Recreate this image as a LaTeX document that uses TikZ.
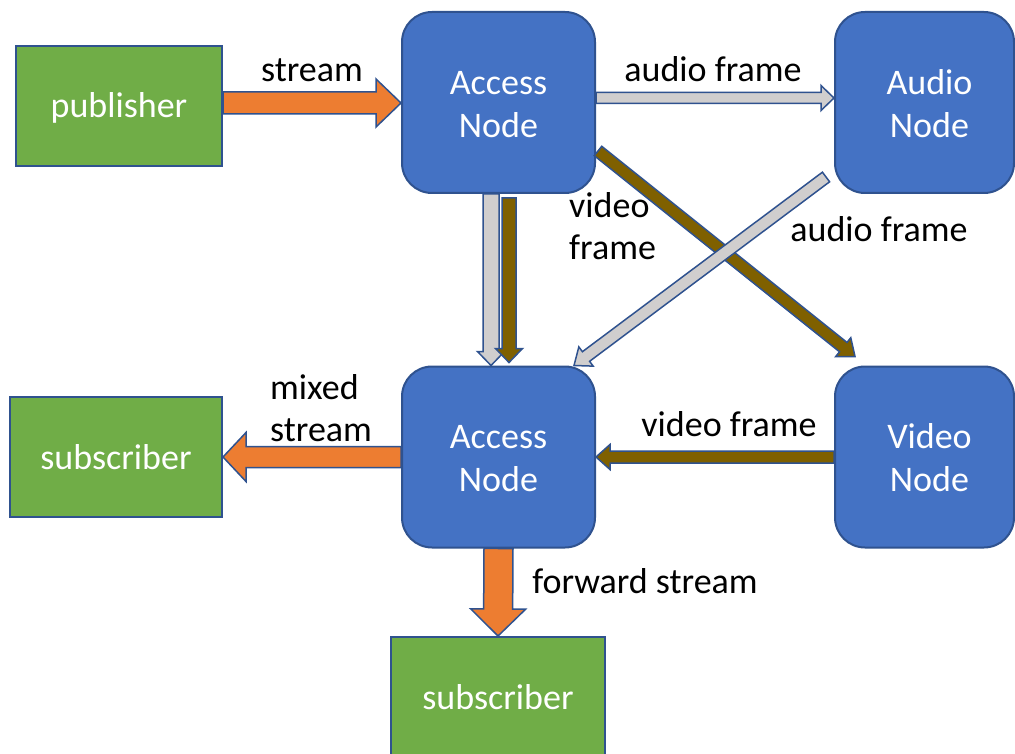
\documentclass[tikz,border=0pt]{standalone}
\usepackage{fontspec}
\setmainfont{Carlito}
\usetikzlibrary{calc}
\definecolor{gfill}{HTML}{70AD47}
\definecolor{bfill}{HTML}{4472C4}
\definecolor{bline}{HTML}{2F528F}
\definecolor{ofill}{HTML}{ED7D31}
\definecolor{grfill}{HTML}{D0CECE}
\definecolor{brfill}{HTML}{7F6000}
\newcommand{\blockarr}[6]{%
  \coordinate (ba-h) at ($(#3)!#6!(#2)$);
  \draw[#1] ($(#2)!#4!90:(#3)$) -- ($(ba-h)!#4!90:(#3)$) -- ($(ba-h)!#5!90:(#3)$)
    -- (#3) -- ($(ba-h)!#5!-90:(#3)$) -- ($(ba-h)!#4!-90:(#3)$) -- ($(#2)!#4!-90:(#3)$) -- cycle;
}
\newcommand{\tstrut}{\rule{0pt}{27pt}}
\begin{document}
\begin{tikzpicture}[x=1pt,y=-1pt,
  every node/.style={font=\fontsize{36}{43}\selectfont},
  greenbox/.style={draw=bline,line width=2pt,fill=gfill,text=white,inner sep=0pt},
  bluebox/.style={draw=bline,line width=2pt,fill=bfill,text=white,rounded corners=30pt,
    minimum height=181pt,inner sep=0pt,align=center},
  lbl/.style={inner sep=0pt,text=black},
  orangearr/.style={draw=bline,line width=1.5pt,fill=ofill,line join=miter},
  greyarr/.style={draw=bline,line width=1.5pt,fill=grfill,line join=miter},
  brownarr/.style={draw=bline,line width=1.5pt,fill=brfill,line join=miter}]
\useasboundingbox[fill=white] (0,0) rectangle (1015,754);

% boxes
\node[greenbox,minimum width=206pt,minimum height=120pt] (pub) at (119,106) {\rule{0pt}{29pt}publisher};
\node[bluebox,minimum width=193pt] (an1) at (498.5,102.5) {\tstrut Access\\Node};
\node[bluebox,minimum width=179pt] (aud) at (924.5,102.5) {\hspace*{10pt}\tstrut Audio\\\hspace*{10pt}Node};
\node[bluebox,minimum width=193pt] (an2) at (498.5,457) {\tstrut Access\\Node};
\node[bluebox,minimum width=179pt] (vid) at (924.5,457) {\hspace*{10pt}\tstrut Video\\\hspace*{10pt}Node};
\node[greenbox,minimum width=212pt,minimum height=120pt] (sub1) at (116,457) {subscriber};
\node[greenbox,minimum width=214pt,minimum height=120pt] (sub2) at (498,697) {subscriber};

% arrow end points
\coordinate (s1) at (pub.east |- 0,103);
\coordinate (e1) at (an1.west |- 0,103);
\coordinate (s2) at (an1.east |- 0,98);
\coordinate (e2) at (aud.west |- 0,98);
\coordinate (s3) at ($(an1.south)+(-7.5,0)$);
\coordinate (e3) at ($(an2.north)+(-7.5,0)$);
\coordinate (s4) at ($(an1.south)+(10.5,4)$);
\coordinate (e4) at ($(an2.north)+(10.5,-3)$);
\coordinate (s5) at ($(an1.south east)+(2,-43)$);
\coordinate (e5) at ($(vid.north west)+(21,-9)$);
\coordinate (s6) at ($(aud.south west)+(-8,-17)$);
\coordinate (e6) at ($(an2.north east)+(-22,0)$);
\coordinate (s7) at (vid.west);
\coordinate (e7) at (an2.east);
\coordinate (s8) at (an2.west);
\coordinate (e8) at (sub1.east |- an2.west);
\coordinate (s9) at (an2.south);
\coordinate (e9) at (sub2.north);

% arrows
\blockarr{orangearr}{s1}{e1}{11pt}{24pt}{25pt}
\blockarr{greyarr}{s2}{e2}{5.5pt}{12.5pt}{13pt}
\blockarr{greyarr}{s3}{e3}{8pt}{13.5pt}{14pt}
\blockarr{brownarr}{s4}{e4}{7pt}{13.5pt}{14pt}
\blockarr{brownarr}{s5}{e5}{6pt}{12pt}{15pt}
\blockarr{greyarr}{s6}{e6}{6pt}{12pt}{15pt}
\blockarr{brownarr}{s7}{e7}{6pt}{12.5pt}{14pt}
\blockarr{orangearr}{s8}{e8}{10.5pt}{24.5pt}{23pt}
\blockarr{orangearr}{s9}{e9}{14.5pt}{27.5pt}{27pt}

% labels
\node[lbl,anchor=base] (l1) at (312,82) {stream};
\node[lbl,anchor=base] (l2) at (713,82) {audio frame};
\node[lbl,anchor=base west] (l3a) at (569,218) {video};
\node[lbl,anchor=base west] (l3b) at (569,260) {frame};
\node[lbl,anchor=base] (l4) at (879,242) {audio frame};
\node[lbl,anchor=base west] (l5a) at (270,399) {mixed};
\node[lbl,anchor=base west] (l5b) at (270,441) {stream};
\node[lbl,anchor=base] (l6) at (729,436) {video frame};
\node[lbl,anchor=base] (l7) at (645,593) {forward stream};
\end{tikzpicture}
\end{document}
